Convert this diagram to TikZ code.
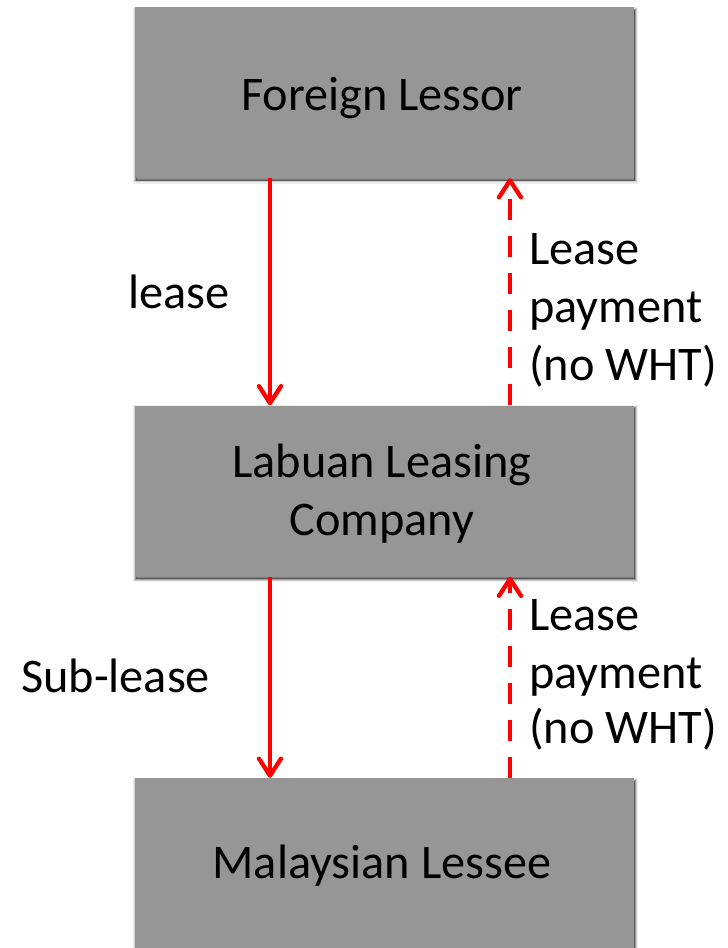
\documentclass[tikz,border=0pt]{standalone}
\usepackage{fontspec}
\setmainfont{Carlito}
\usetikzlibrary{arrows.meta,shadows}
\definecolor{boxgray}{RGB}{150,150,150}
\definecolor{arrowred}{RGB}{255,0,0}
\tikzset{
  box/.style={fill=boxgray, draw=none, minimum width=499pt, minimum height=171pt, inner sep=0pt,
    general shadow={fill=black, draw=black, line width=6pt, opacity=0.07, shadow xshift=1pt, shadow yshift=-2.5pt},
    general shadow={fill=black, draw=black, line width=3.5pt, opacity=0.13, shadow xshift=1pt, shadow yshift=-2.5pt},
    general shadow={fill=black, draw=black, line width=1.5pt, opacity=0.25, shadow xshift=1pt, shadow yshift=-2.5pt}},
  txt/.style={inner sep=0pt, font=\fontsize{48.3pt}{58pt}\selectfont, text=black},
  flow/.style={draw=arrowred, line width=4.3pt, -{Straight Barb[length=17pt,width=22pt,round]}},
  payflow/.style={flow, dash pattern=on 21pt off 16pt}
}
\begin{document}
\begin{tikzpicture}[x=1pt,y=-1pt]
\clip (0,0) rectangle (728,948);
\fill[white] (0,0) rectangle (728,948);
% boxes
\node[box] (fl) at (384.5,92.5) {};
\node[box] (llc) at (384.5,491) {};
\node[box] (ml) at (384.5,863.5) {};
% box texts
\node[txt, anchor=base] (fl-t) at (382,110) {Foreign Lessor};
\node[txt, anchor=base] (llc-t1) at (382,477) {Labuan Leasing};
\node[txt, anchor=base] (llc-t2) at (382,535) {Company};
\node[txt, anchor=base] (ml-t) at (382,878) {Malaysian Lessee};
% connector columns
\coordinate (lx) at (270,0);
\coordinate (rx) at (510,0);
% connectors
\draw[flow] (fl.south -| lx) -- (llc.north -| lx);
\draw[payflow] (llc.north -| rx) -- (fl.south -| rx);
\draw[flow] (llc.south -| lx) -- (ml.north -| lx);
\draw[payflow] (ml.north -| rx) -- (llc.south -| rx);
% labels
\node[txt, anchor=base west] (l1) at (128,308) {lease};
\node[txt, anchor=base west] (l2) at (21,692) {Sub-lease};
\node[txt, anchor=base west] (p1a) at (529,264) {Lease};
\node[txt, anchor=base west] (p1b) at (529,322) {payment};
\node[txt, anchor=base west] (p1c) at (529,380) {(no WHT)};
\node[txt, anchor=base west] (p2a) at (529,630) {Lease};
\node[txt, anchor=base west] (p2b) at (529,688) {payment};
\node[txt, anchor=base west] (p2c) at (529,743) {(no WHT)};
\end{tikzpicture}
\end{document}
